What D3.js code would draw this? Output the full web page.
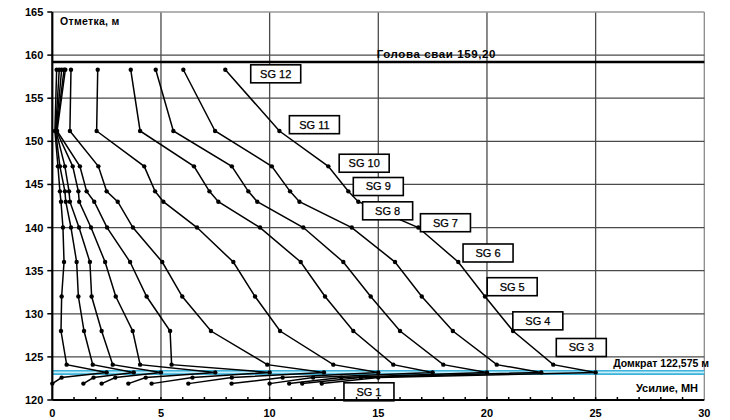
<!DOCTYPE html>
<html>
<head>
<meta charset="utf-8">
<script src="https://cdn.jsdelivr.net/npm/d3@7"></script>
<style>
  html, body { margin: 0; padding: 0; background: #fff; }
  svg { display: block; font-family: "Liberation Sans", Arial, sans-serif; }
  .tick-lbl { font-size: 11px; font-weight: bold; fill: #000; }
  .cap { font-weight: bold; fill: #000; }
  .sg text { font-size: 11px; fill: #000; stroke: #000; stroke-width: 0.25px; }
</style>
</head>
<body>
<svg id="chart" width="730" height="420"></svg>
<script>
/* Распределение усилий по длине сваи по ступеням нагружения */

// отметки тензодатчиков SG12 ... SG3, домкрат, SG2, SG1 (м)
const LEVELS = [158.3, 151.2, 147.1, 144.2, 143.0, 140.0, 136.0, 132.0, 128.0, 124.1, 123.2, 122.6, 121.9];

// нагрузка на домкрате по ступеням, МН
const LOADS = [2.5, 3.75, 5, 7.5, 10, 12.5, 15, 17.5, 20, 22.5, 25];

// усилие, МН, на каждой отметке LEVELS (одна строка на ступень)
const FORCES = [
  [0.20, 0.12, 0.26, 0.35, 0.40, 0.49, 0.54, 0.43, 0.40, 0.66, 2.5,  0.43, 0.00],
  [0.32, 0.15, 0.35, 0.58, 0.62, 0.86, 1.12, 1.20, 1.46, 1.86, 3.75, 1.90, 1.43],
  [0.43, 0.17, 0.58, 0.77, 0.81, 1.23, 1.73, 1.81, 2.27, 2.78, 5,    2.90, 2.27],
  [0.54, 0.19, 0.94, 1.20, 1.24, 1.78, 2.43, 2.92, 3.70, 4.04, 7.5,  4.30, 3.50],
  [0.60, 0.22, 1.27, 1.58, 1.93, 2.52, 3.58, 4.34, 5.42, 5.49, 10,   6.45, 4.57],
  [0.86, 0.81, 2.12, 2.50, 3.01, 3.71, 5.06, 5.98, 7.30, 9.89, 12.5, 8.26, 6.26],
  [2.09, 2.04, 4.23, 4.73, 5.11, 6.66, 8.33, 9.33, 10.48, 12.93, 15, 10.6, 8.25],
  [3.61, 4.04, 6.52, 7.23, 7.64, 9.56, 11.43, 12.55, 13.85, 15.69, 17.5, 12.0, 10.0],
  [4.76, 5.57, 8.26, 9.02, 9.43, 11.55, 13.39, 14.65, 16.0, 17.99, 20, 13.3, 10.9],
  [6.03, 7.49, 10.10, 10.94, 11.37, 13.78, 15.77, 17.0, 18.43, 20.45, 22.5, 14.2, 11.5],
  [7.96, 10.45, 12.70, 13.62, 14.08, 16.84, 18.68, 19.91, 21.2, 23.05, 25, 15.0, 12.4]
];

const PILE_HEAD = 159.2;          // голова сваи
const JACK_LEVEL = 123.2;         // полоса домкрата на рисунке
const X_TICKS = [0, 5, 10, 15, 20, 25, 30];
const Y_TICKS = [120, 125, 130, 135, 140, 145, 150, 155, 160, 165];

const SG_NAMES = ["SG 12", "SG 11", "SG 10", "SG 9", "SG 8", "SG 7", "SG 6", "SG 5", "SG 4", "SG 3", "SG 1"];
// центры подписей в координатах графика (усилие, отметка)
const SG_POS = [[10.28, 157.83], [12.06, 151.93], [14.35, 147.46], [15.0, 144.76], [15.43, 141.94],
                [18.09, 140.56], [20.05, 137.05], [21.16, 133.14], [22.34, 129.18], [24.34, 126.09], [14.57, 120.95]];

const svg = d3.select("#chart");
const L = 52.3, R = 704.3, T = 12, B = 400;
const x = d3.scaleLinear().domain([0, 30]).range([L, R]);
const y = d3.scaleLinear().domain([120, 165]).range([B, T]);

/* сетка */
const grid = svg.append("g");
grid.selectAll("line.v").data(X_TICKS.slice(1)).join("line")
  .attr("x1", d => x(d)).attr("x2", d => x(d)).attr("y1", T).attr("y2", B)
  .attr("stroke", d => d === 30 ? "#8a8a8a" : "#4a4a4a").attr("stroke-width", 1.3);
grid.selectAll("line.h").data(Y_TICKS.slice(1)).join("line")
  .attr("x1", L).attr("x2", R).attr("y1", d => y(d)).attr("y2", d => y(d))
  .attr("stroke", d => d === 165 ? "#9a9a9a" : "#4a4a4a").attr("stroke-width", 1.3);

/* домкрат */
svg.append("line").attr("x1", L).attr("x2", R).attr("y1", y(JACK_LEVEL)).attr("y2", y(JACK_LEVEL))
  .attr("stroke", "#3fb2da").attr("stroke-width", 5);
svg.append("line").attr("x1", L).attr("x2", R).attr("y1", y(JACK_LEVEL)).attr("y2", y(JACK_LEVEL))
  .attr("stroke", "#c4eefa").attr("stroke-width", 1.6);

/* кривые */
const line = d3.line().x(d => x(d[0])).y(d => y(d[1]));
const pts = FORCES.map(row => row.map((f, i) => [f, LEVELS[i]]));
const curves = svg.append("g");
curves.selectAll("path").data(pts).join("path")
  .attr("d", line).attr("fill", "none").attr("stroke", "#000").attr("stroke-width", 1.5);
curves.selectAll("g").data(pts).join("g")
  .selectAll("circle").data(d => d).join("circle")
  .attr("cx", d => x(d[0])).attr("cy", d => y(d[1])).attr("r", 2.2).attr("fill", "#000");

/* голова сваи */
svg.append("line").attr("x1", L).attr("x2", R).attr("y1", y(PILE_HEAD)).attr("y2", y(PILE_HEAD))
  .attr("stroke", "#000").attr("stroke-width", 2.6);
svg.append("text").attr("class", "cap").attr("font-size", 11.5).attr("letter-spacing", 0.6)
  .attr("x", 496).attr("y", y(PILE_HEAD) - 4).attr("text-anchor", "end")
  .text("Голова сваи 159,20");

/* подписи датчиков */
const sg = svg.append("g").attr("class", "sg");
const box = sg.selectAll("g").data(SG_NAMES).join("g")
  .attr("transform", (d, i) => `translate(${x(SG_POS[i][0])},${y(SG_POS[i][1])})`);
box.append("rect").attr("x", -25).attr("y", -9).attr("width", 50).attr("height", 18)
  .attr("fill", "#fff").attr("stroke", "#000").attr("stroke-width", 1.6);
box.append("text").attr("text-anchor", "middle").attr("dy", "0.36em").text(d => d);

/* оси */
const xAxis = svg.append("g");
xAxis.append("line").attr("x1", L).attr("x2", R).attr("y1", B).attr("y2", B)
  .attr("stroke", "#000").attr("stroke-width", 2);
xAxis.selectAll("line.m").data(d3.range(1, 30)).join("line")
  .attr("x1", d => x(d)).attr("x2", d => x(d)).attr("y1", B).attr("y2", B - 3)
  .attr("stroke", "#000").attr("stroke-width", 1.5);
xAxis.selectAll("text").data(X_TICKS).join("text").attr("class", "tick-lbl")
  .attr("x", d => x(d)).attr("y", B + 17).attr("text-anchor", "middle").text(d => d);

const yAxis = svg.append("g");
yAxis.append("line").attr("x1", L).attr("x2", L).attr("y1", T).attr("y2", B)
  .attr("stroke", "#000").attr("stroke-width", 2.2);
yAxis.selectAll("line.t").data(Y_TICKS).join("line")
  .attr("x1", L - 5).attr("x2", L).attr("y1", d => y(d)).attr("y2", d => y(d))
  .attr("stroke", "#000").attr("stroke-width", 1.5);
yAxis.selectAll("text").data(Y_TICKS).join("text").attr("class", "tick-lbl")
  .attr("x", L - 9).attr("y", d => y(d)).attr("dy", "0.36em").attr("text-anchor", "end").text(d => d);

/* заголовки осей */
svg.append("text").attr("class", "cap").attr("font-size", 10.5).attr("letter-spacing", 0.3)
  .attr("x", 60).attr("y", 25).text("Отметка, м");
svg.append("text").attr("class", "cap").attr("font-size", 10.5).attr("x", 709).attr("y", 367)
  .attr("text-anchor", "end").text("Домкрат 122,575 м");
svg.append("text").attr("class", "cap").attr("font-size", 11).attr("x", 698).attr("y", 392)
  .attr("text-anchor", "end").text("Усилие, МН");
</script>
</body>
</html>
